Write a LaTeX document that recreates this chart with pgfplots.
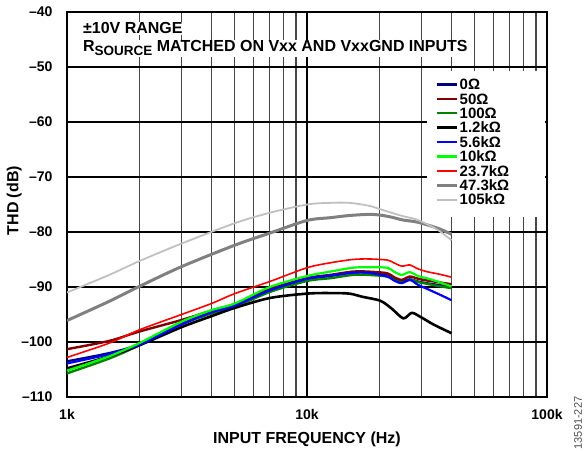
\documentclass[border=0pt]{standalone}
\usepackage{pgfplots}
\pgfplotsset{compat=1.18}
\usepackage{fontspec}
\setmainfont{Liberation Sans}
\definecolor{cnavy}{HTML}{000080}
\definecolor{cdred}{HTML}{800000}
\definecolor{cdgreen}{HTML}{008000}
\definecolor{cblue}{HTML}{0000FF}
\definecolor{clime}{HTML}{00FF00}
\definecolor{cred}{HTML}{FF0000}
\definecolor{cgray}{HTML}{808080}
\definecolor{clgray}{HTML}{C0C0C0}
\begin{document}
\begin{tikzpicture}
\useasboundingbox (-67pt,-53pt) rectangle (518pt,397pt);
\begin{axis}[
  width=480pt, height=385pt, scale only axis,
  xmode=log, xmin=1000, xmax=100000, ymin=-110, ymax=-40,
  xtick={1000,10000,100000}, xticklabels={1k,10k,100k},
  minor xtick={2000,3000,4000,5000,6000,7000,8000,9000,20000,30000,40000,50000,60000,70000,80000,90000},
  ytick={-110,-100,-90,-80,-70,-60,-50,-40},
  yticklabels={\textendash110,\textendash100,\textendash90,\textendash80,\textendash70,\textendash60,\textendash50,\textendash40},
  grid=both,
  major x grid style={black, line width=1.7pt},
  minor x grid style={black!72, line width=1.2pt},
  major y grid style={black, line width=1.2pt},
  major tick length=0pt, minor tick length=0pt,
  axis line style={line width=1.7pt},
  tick label style={font=\bfseries\fontsize{14}{16}\selectfont},
  xticklabel style={yshift=-9pt},
  yticklabel style={xshift=-11pt},
  xlabel={INPUT FREQUENCY (Hz)}, ylabel={THD (dB)},
  label style={font=\bfseries\fontsize{16}{18}\selectfont},
  xlabel style={at={(axis description cs:0.5,-0.11)}, anchor=center},
  ylabel style={at={(axis description cs:-0.11,0.51)}, anchor=center, rotate=0},
  legend cell align=left,
  legend image code/.code={\draw[#1] (0pt,0pt) -- (20pt,0pt);},
  legend style={at={(rel axis cs:0.75,0.844)}, anchor=north west, draw=none, fill=white,
    font=\bfseries\fontsize{15}{16}\selectfont, row sep=0pt, inner xsep=8pt, inner ysep=5pt,
    nodes={text height=10.6pt, text depth=0pt, inner ysep=1.9pt, inner xsep=1.5pt}},
]
\fill[white] (rel axis cs:0.75,0.4675) rectangle (rel axis cs:0.995,0.847);
\addplot[cnavy, line width=2.2pt, smooth] coordinates {
(1000,-103.5) (1500,-102.0) (2000,-100.4) (3000,-96.7) (4000,-94.6) (5000,-93.4) (7000,-90.6) (10000,-88.6) (12500,-88.0) (15500,-87.4) (18000,-87.4) (21600,-87.9) (23000,-88.5) (24800,-89.0) (26800,-88.6) (29000,-89.0) (31500,-89.3) (35000,-89.6) (40000,-90.0)};
\addlegendentry{0Ω}
\addplot[cdred, line width=2.4pt, smooth] coordinates {
(1000,-101.3) (1500,-99.8) (2000,-98.1) (3000,-96.0) (4000,-94.3) (5000,-93.1) (7000,-90.4) (10000,-88.4) (12500,-87.8) (15500,-87.2) (18000,-87.2) (21600,-87.5) (23000,-88.2) (24800,-88.7) (26800,-88.1) (29000,-88.5) (31500,-88.8) (35000,-89.1) (40000,-89.5)};
\addlegendentry{50Ω}
\addplot[cdgreen, line width=2.4pt, smooth] coordinates {
(1000,-105.7) (1500,-103.0) (2000,-100.6) (3000,-96.8) (4000,-94.8) (5000,-93.6) (7000,-90.9) (10000,-88.9) (12500,-88.4) (15500,-87.8) (18000,-87.8) (21600,-88.1) (23000,-88.7) (24800,-89.2) (26800,-88.7) (29000,-89.1) (31500,-89.4) (35000,-89.8) (40000,-90.2)};
\addlegendentry{100Ω}
\addplot[black, line width=2.6pt, smooth] coordinates {
(1000,-104.8) (1500,-102.6) (2000,-100.6) (3000,-97.3) (4000,-95.3) (5000,-93.8) (7000,-92.0) (10000,-91.2) (12500,-91.1) (15000,-91.2) (17100,-91.8) (20200,-92.5) (22500,-93.9) (25200,-95.7) (27300,-94.7) (29600,-95.4) (33600,-96.8) (40000,-98.4)};
\addlegendentry{1.2kΩ}
\addplot[cblue, line width=2.2pt, smooth] coordinates {
(1000,-103.9) (1500,-102.2) (2000,-100.5) (3000,-96.8) (4000,-94.6) (5000,-93.4) (7000,-90.6) (10000,-88.5) (12500,-87.9) (15500,-87.4) (18000,-87.4) (21600,-88.1) (23000,-88.8) (24800,-89.3) (26800,-88.7) (29000,-89.6) (31500,-90.3) (35000,-91.2) (40000,-92.4)};
\addlegendentry{5.6kΩ}
\addplot[clime, line width=2.2pt, smooth] coordinates {
(1000,-105.2) (1500,-102.6) (2000,-100.2) (3000,-96.3) (4000,-94.2) (5000,-93.0) (7000,-90.0) (10000,-88.0) (12500,-87.2) (15500,-86.5) (18000,-86.4) (21600,-86.5) (23000,-87.2) (24800,-87.8) (26800,-87.3) (29000,-88.0) (31500,-88.4) (35000,-89.0) (40000,-89.9)};
\addlegendentry{10kΩ}
\addplot[cred, line width=1.6pt, smooth] coordinates {
(1000,-102.8) (1500,-100.2) (2000,-97.8) (3000,-95.0) (4000,-93.0) (5000,-91.2) (7000,-89.0) (10000,-86.5) (12500,-85.6) (15500,-85.0) (18000,-84.9) (21600,-85.1) (23000,-85.6) (24800,-86.2) (26800,-86.0) (29000,-86.7) (31500,-87.2) (35000,-87.6) (40000,-88.2)};
\addlegendentry{23.7kΩ}
\addplot[cgray, line width=3pt, smooth] coordinates {
(1000,-96.1) (1500,-92.6) (2000,-89.9) (3000,-86.3) (5000,-82.4) (7000,-80.2) (10000,-77.9) (12500,-77.4) (15000,-77.0) (18000,-76.8) (20000,-76.9) (22500,-77.3) (25000,-77.8) (28000,-78.1) (30000,-78.4) (35000,-79.3) (40000,-80.4)};
\addlegendentry{47.3kΩ}
\addplot[clgray, line width=1.8pt, smooth] coordinates {
(1000,-91.0) (1500,-87.8) (2000,-85.3) (3000,-82.1) (5000,-78.4) (7000,-76.5) (10000,-75.0) (12500,-74.7) (15000,-74.7) (18000,-75.2) (20000,-75.8) (22500,-76.5) (25000,-77.1) (28000,-77.6) (30000,-78.1) (35000,-79.6) (40000,-81.5)};
\addlegendentry{105kΩ}
\node[anchor=west, fill=white, inner sep=1pt, font=\bfseries\fontsize{16}{18}\selectfont] at (rel axis cs:0.031,0.958) {±10V RANGE};
\node[anchor=west, fill=white, inner sep=1pt, font=\bfseries\fontsize{16}{18}\selectfont] at (rel axis cs:0.031,0.906) {R\raisebox{-3.5pt}{\fontsize{13.5}{15}\selectfont SOURCE} MATCHED ON Vxx AND VxxGND INPUTS};
\end{axis}
\node[rotate=90, font=\fontsize{11}{12}\selectfont, text=black!70] at (511pt,-26pt) {13591-227};
\end{tikzpicture}
\end{document}
